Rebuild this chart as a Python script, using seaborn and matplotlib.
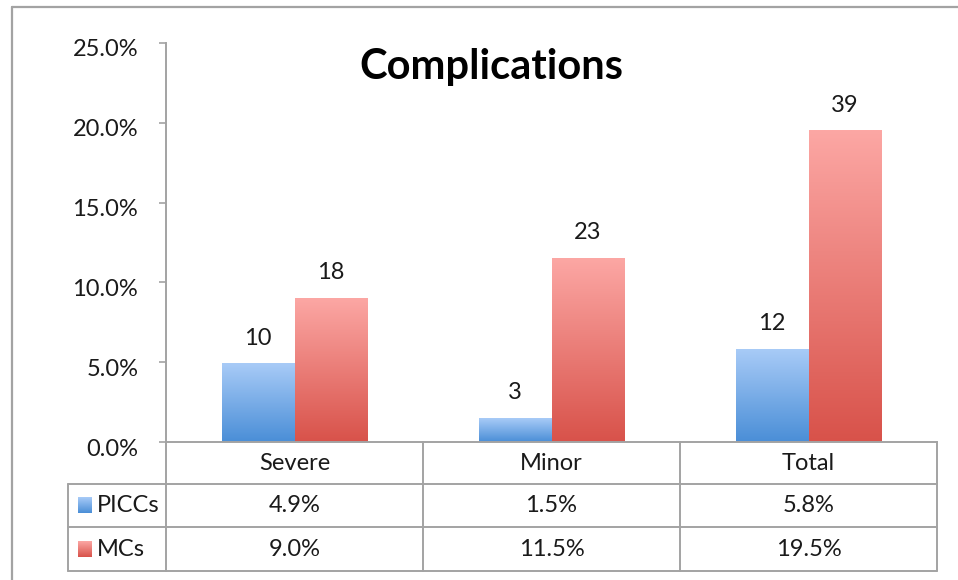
import numpy as np
import pandas as pd
import matplotlib
matplotlib.use("Agg")
import matplotlib.pyplot as plt
import matplotlib.transforms as mtransforms
from matplotlib.lines import Line2D
from matplotlib.colors import LinearSegmentedColormap
from matplotlib.ticker import FuncFormatter
import seaborn as sns

# ---------------- data ----------------
categories = ["Severe", "Minor", "Total"]
series_names = ["PICCs", "MCs"]
picc_rates = [0.049, 0.015, 0.058]
mc_rates = [0.090, 0.115, 0.195]
picc_counts = [10, 3, 12]
mc_counts = [18, 23, 39]
y_ticks = [0.0, 0.05, 0.10, 0.15, 0.20, 0.25]
title_text = "Complications"

df = pd.DataFrame({
    "category": categories * 2,
    "series": [series_names[0]] * len(categories) + [series_names[1]] * len(categories),
    "rate": picc_rates + mc_rates,
})
rates_by_series = [picc_rates, mc_rates]
counts_by_series = [picc_counts, mc_counts]

# ---------------- style ----------------
sns.set_theme(style="white")
plt.rcParams["font.family"] = ["Lato", "DejaVu Sans"]
TXT = "#1a1a1a"
GRID = "#a3a3a3"
FS = 17

grad_colors = {
    "PICCs": ("#4a8ed7", "#a8cbf7"),   # bottom, top
    "MCs": ("#d8524a", "#fca7a4"),
}
mid_palette = {"PICCs": "#77aae8", "MCs": "#ea7c76"}

W, H = 958, 580
fig = plt.figure(figsize=(W / 100, H / 100), dpi=100)
ax = fig.add_axes([166 / W, 1 - 442 / H, (937 - 166) / W, (442 - 43) / H])

sns.barplot(data=df, x="category", y="rate", hue="series", order=categories,
            hue_order=series_names, palette=mid_palette, width=0.566,
            saturation=1, errorbar=None, legend=False, ax=ax)

# gradient fill for each bar
grad = np.linspace(0, 1, 256).reshape(-1, 1)
for cont, name in zip(ax.containers, series_names):
    cmap = LinearSegmentedColormap.from_list(name, grad_colors[name])
    for p in cont.patches:
        x, y, w, h = p.get_x(), p.get_y(), p.get_width(), p.get_height()
        ax.imshow(grad, extent=[x, x + w, y, y + h], origin="lower", cmap=cmap,
                  aspect="auto", zorder=2, interpolation="bilinear")
        p.set_facecolor("none")
        p.set_edgecolor("none")

for cont, counts in zip(ax.containers, counts_by_series):
    ax.bar_label(cont, labels=[str(c) for c in counts], padding=11,
                 fontsize=FS, color=TXT)

ax.set_xlim(-0.5, len(categories) - 0.5)
ax.set_ylim(y_ticks[0], y_ticks[-1])
ax.set_yticks(y_ticks)
ax.yaxis.set_major_formatter(FuncFormatter(lambda v, _: f"{v * 100:.1f}%"))
ax.tick_params(axis="y", which="major", length=5, width=1.2, color=GRID,
               direction="out", pad=15, labelsize=FS, labelcolor=TXT, left=True)
ax.set_xticks([])
ax.set_xlabel("")
ax.set_ylabel("")
for s in ["top", "right"]:
    ax.spines[s].set_visible(False)
for s in ["left", "bottom"]:
    ax.spines[s].set_color(GRID)
    ax.spines[s].set_linewidth(1.4)

shift = mtransforms.ScaledTranslation(0, -5 / 100, fig.dpi_scale_trans)
for lab in ax.get_yticklabels():
    lab.set_transform(lab.get_transform() + shift)

# ---------------- data table ----------------
tr = mtransforms.blended_transform_factory(ax.transData, ax.transAxes)
ax_h = 442 - 43
rows_y = [0, -(484 - 442) / ax_h, -(527 - 442) / ax_h, -(571 - 442) / ax_h]
n = len(categories)
col_edges = [i - 0.5 for i in range(n + 1)]
px_per_cat = (937 - 166) / n
leg_left = -0.5 - (166 - 68) / px_per_cat

def line(xs, ys):
    ax.add_line(Line2D(xs, ys, transform=tr, color=GRID, lw=1.4, clip_on=False))

for yy in rows_y[1:]:
    line([leg_left, col_edges[-1]], [yy, yy])
for xe in col_edges:
    line([xe, xe], [rows_y[0], rows_y[-1]])
line([leg_left, leg_left], [rows_y[1], rows_y[-1]])

hdr_y = (rows_y[0] + rows_y[1]) / 2
for i, c in enumerate(categories):
    ax.text(i, hdr_y, c, transform=tr, ha="center", va="center",
            fontsize=FS, color=TXT, clip_on=False)

sq_x0 = -0.5 - (166 - 78) / px_per_cat
sq_x1 = -0.5 - (166 - 92) / px_per_cat
lab_x = -0.5 - (166 - 97) / px_per_cat
sq_h = 16 / ax_h
for r, name in enumerate(series_names):
    yc = (rows_y[r + 1] + rows_y[r + 2]) / 2
    cmap = LinearSegmentedColormap.from_list(name + "_leg", grad_colors[name])
    ax.imshow(grad, extent=[sq_x0, sq_x1, yc - sq_h / 2, yc + sq_h / 2],
              origin="lower", cmap=cmap, aspect="auto", transform=tr,
              clip_on=False, zorder=3)
    ax.text(lab_x, yc, name, transform=tr, ha="left", va="center",
            fontsize=FS, color=TXT, clip_on=False)
    for i, v in enumerate(rates_by_series[r]):
        ax.text(i, yc, f"{v * 100:.1f}%", transform=tr, ha="center", va="center",
                fontsize=FS, color=TXT, clip_on=False)

ax.set_xlim(-0.5, len(categories) - 0.5)
ax.set_ylim(y_ticks[0], y_ticks[-1])

# ---------------- title & frame ----------------
fig.text(491 / W, 1 - 79 / H, title_text, ha="center", va="baseline",
         fontsize=30, fontweight="bold", color="#000000")

fig.add_artist(Line2D([12 / W, 1], [1 - 7 / H, 1 - 7 / H], color=GRID, lw=1.6))
fig.add_artist(Line2D([12 / W, 12 / W], [0, 1 - 7 / H], color=GRID, lw=1.6))

fig.savefig("out.png", dpi=100)
